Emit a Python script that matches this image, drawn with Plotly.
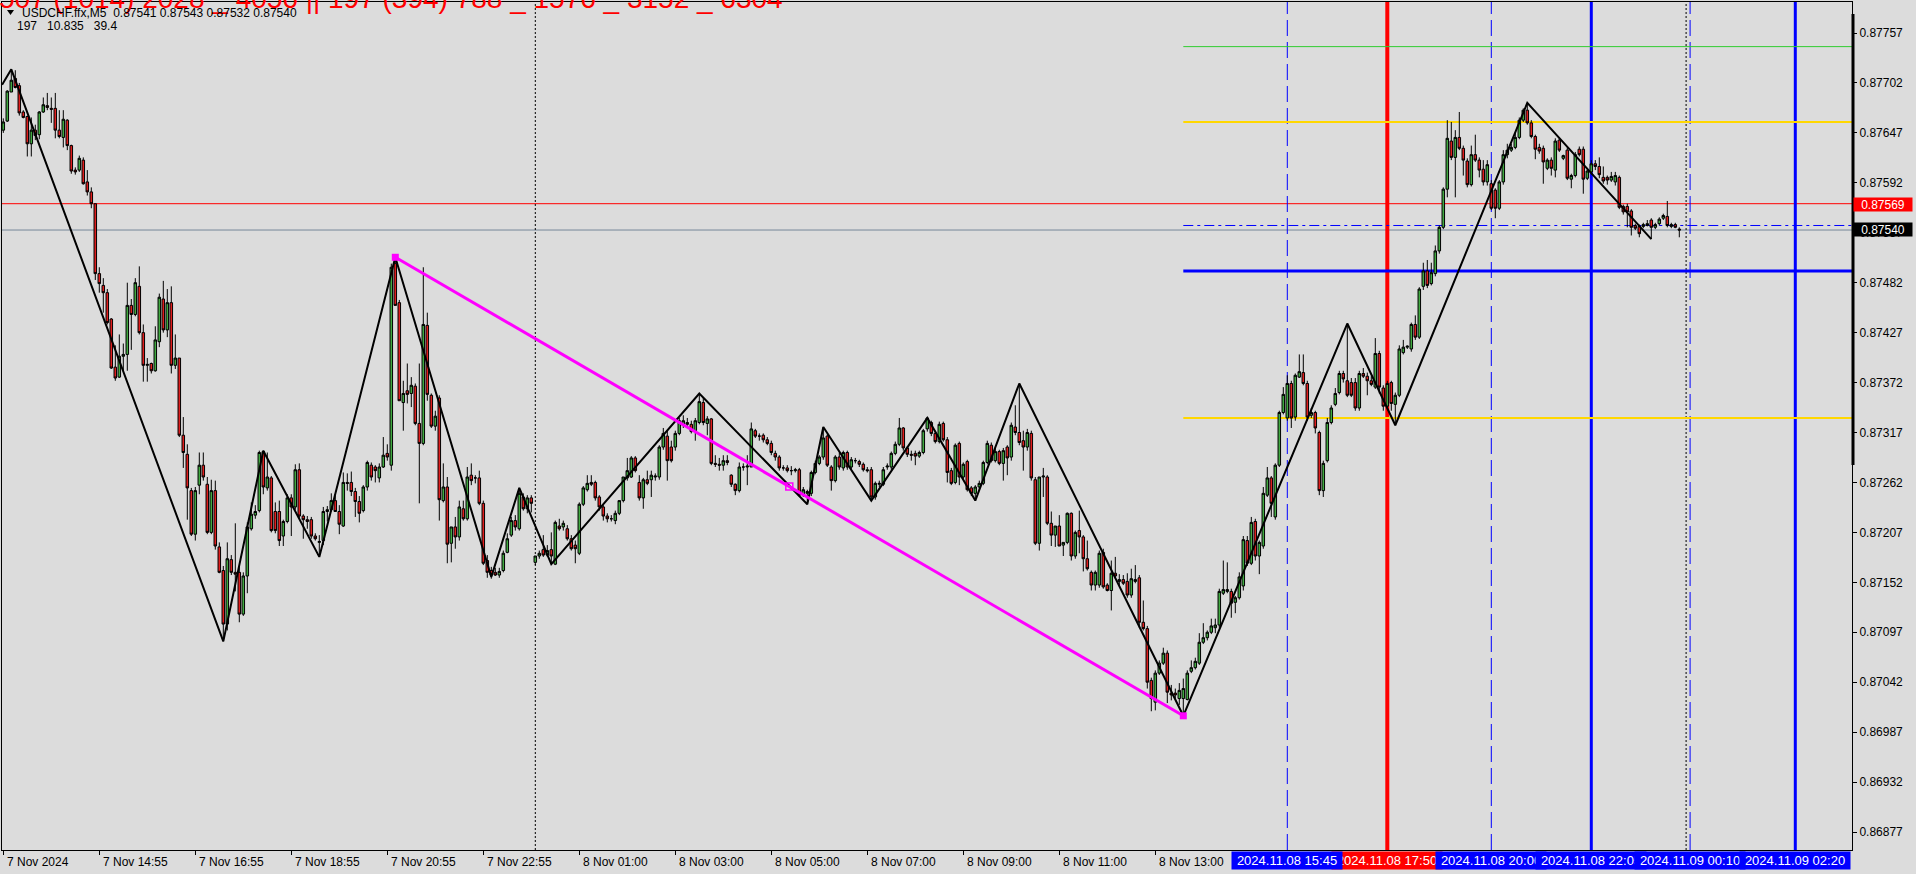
import plotly.graph_objects as go

# ---------------- DATA (prices in points, 1 point = 0.00001) ----------------
open_pts = [
87650,87660,87692,87707,87699,87670,87665,87635,87650,87645,
87670,87677,87674,87674,87650,87642,87661,87633,87606,87606,
87617,87593,87582,87569,87492,87479,87471,87442,87389,87378,
87401,87403,87457,87447,87478,87427,87391,87393,87385,87417,
87464,87430,87460,87391,87399,87314,87293,87253,87205,87259,
87281,87260,87207,87253,87191,87165,87106,87177,87163,87163,
87117,87159,87211,87226,87231,87296,87256,87267,87230,87230,
87203,87219,87245,87235,87276,87225,87221,87221,87203,87196,
87198,87230,87232,87242,87230,87214,87262,87262,87252,87241,
87231,87257,87281,87279,87267,87279,87294,87281,87503,87460,
87350,87363,87360,87368,87327,87305,87435,87358,87324,87355,
87242,87257,87195,87213,87202,87233,87222,87270,87267,87267,
87239,87176,87165,87163,87160,87165,87185,87204,87220,87211,
87246,87233,87245,87174,87181,87188,87182,87188,87172,87214,
87213,87211,87200,87193,87184,87238,87254,87262,87262,87246,
87235,87225,87222,87220,87228,87242,87267,87268,87289,87262,
87245,87265,87265,87268,87268,87301,87313,87301,87301,87316,
87325,87328,87326,87319,87328,87350,87327,87332,87283,87282,
87281,87286,87270,87260,87253,87279,87279,87279,87319,87313,
87314,87309,87305,87294,87290,87278,87278,87275,87275,87276,
87248,87252,87250,87273,87283,87290,87313,87279,87264,87290,
87278,87295,87279,87286,87285,87282,87276,87276,87246,87260,
87260,87279,87279,87294,87304,87322,87300,87293,87294,87291,
87295,87321,87328,87316,87307,87327,87309,87275,87262,87305,
87268,87285,87256,87250,87257,87261,87284,87303,87286,87296,
87283,87301,87290,87323,87317,87308,87301,87316,87265,87195,
87268,87268,87217,87204,87214,87193,87196,87228,87181,87209,
87202,87178,87163,87149,87149,87185,87149,87143,87162,87153,
87155,87153,87138,87153,87157,87108,87101,87044,87020,87052,
87063,87074,87030,87030,87024,87024,87023,87054,87058,87063,
87086,87091,87097,87102,87105,87140,87142,87142,87130,87135,
87148,87198,87173,87219,87181,87192,87248,87267,87224,87281,
87339,87333,87371,87334,87378,87383,87371,87336,87339,87317,
87253,87286,87328,87348,87361,87382,87374,87372,87372,87344,
87382,87379,87374,87367,87404,87366,87346,87372,87348,87358,
87405,87411,87409,87436,87422,87478,87495,87481,87492,87517,
87543,87585,87638,87620,87642,87630,87616,87590,87623,87617,
87607,87593,87591,87584,87564,87593,87623,87628,87631,87642,
87661,87672,87658,87643,87631,87630,87608,87617,87606,87639,
87619,87628,87596,87600,87629,87629,87597,87604,87613,87610,
87598,87598,87595,87593,87598,87566,87566,87561,87545,87544,
87544,87545,87551,87543,87547,87553,87555,87544,87546,87541,
]
high_pts = [
87663,87694,87717,87716,87702,87672,87666,87664,87656,87671,
87686,87691,87686,87691,87672,87672,87662,87634,87609,87622,
87620,87606,87587,87569,87499,87487,87475,87443,87413,87425,
87415,87482,87464,87487,87500,87436,87399,87394,87434,87470,
87484,87475,87478,87425,87399,87334,87304,87256,87257,87295,
87295,87268,87265,87264,87196,87170,87196,87182,87217,87170,
87163,87218,87240,87237,87297,87297,87295,87269,87240,87242,
87221,87249,87249,87282,87283,87227,87225,87224,87206,87204,
87235,87236,87250,87249,87237,87273,87272,87274,87256,87247,
87259,87286,87284,87281,87283,87312,87304,87503,87510,87463,
87374,87393,87378,87371,87393,87499,87449,87360,87341,87358,
87283,87268,87213,87224,87242,87242,87279,87283,87270,87275,
87242,87182,87169,87168,87168,87187,87206,87224,87226,87256,
87250,87248,87248,87181,87187,87204,87193,87207,87220,87222,
87220,87215,87204,87198,87240,87258,87270,87270,87264,87248,
87237,87228,87226,87231,87242,87268,87289,87291,87291,87270,
87267,87275,87275,87272,87303,87322,87319,87308,87319,87333,
87336,87333,87330,87333,87360,87355,87335,87333,87292,87289,
87292,87292,87271,87261,87284,87283,87292,87328,87321,87316,
87316,87312,87308,87297,87292,87281,87281,87280,87278,87278,
87257,87254,87275,87286,87292,87323,87315,87281,87292,87295,
87297,87297,87290,87289,87287,87284,87279,87279,87263,87264,
87279,87283,87296,87307,87333,87323,87302,87297,87297,87297,
87321,87333,87330,87319,87329,87329,87312,87278,87305,87307,
87284,87287,87258,87259,87264,87286,87308,87306,87300,87298,
87300,87303,87328,87347,87371,87319,87321,87319,87268,87268,
87278,87270,87230,87214,87226,87196,87229,87229,87209,87231,
87204,87198,87165,87165,87187,87189,87151,87176,87180,87161,
87160,87162,87167,87171,87160,87132,87104,87047,87055,87066,
87080,87077,87039,87035,87041,87046,87055,87066,87069,87096,
87107,87099,87112,87112,87145,87176,87174,87145,87137,87163,
87203,87203,87224,87222,87198,87257,87279,87269,87283,87341,
87367,87380,87374,87382,87403,87403,87374,87344,87341,87319,
87286,87333,87347,87366,87385,87385,87437,87377,87377,87385,
87388,87383,87379,87421,87407,87369,87374,87374,87361,87413,
87419,87413,87438,87446,87477,87504,87507,87504,87523,87545,
87587,87661,87659,87650,87670,87633,87619,87633,87645,87620,
87617,87617,87595,87586,87595,87628,87635,87635,87647,87664,
87674,87680,87661,87645,87635,87633,87619,87620,87641,87642,
87623,87631,87602,87626,87632,87632,87608,87617,87617,87620,
87610,87600,87604,87604,87600,87568,87569,87563,87547,87546,
87548,87551,87553,87548,87554,87558,87572,87548,87548,87543,
]
low_pts = [
87647,87659,87692,87696,87666,87663,87621,87621,87639,87640,
87669,87672,87658,87641,87641,87631,87628,87602,87601,87604,
87590,87578,87564,87485,87471,87449,87436,87387,87374,87377,
87385,87385,87408,87445,87425,87373,87373,87382,87384,87411,
87427,87422,87382,87387,87312,87278,87221,87203,87198,87249,
87264,87205,87205,87188,87162,87087,87099,87160,87142,87108,
87115,87140,87209,87222,87229,87249,87253,87207,87206,87192,
87192,87217,87203,87232,87222,87200,87211,87200,87198,87180,
87193,87219,87230,87230,87205,87213,87253,87247,87224,87218,
87229,87253,87264,87262,87262,87278,87286,87275,87457,87352,
87319,87349,87345,87325,87239,87303,87352,87322,87319,87220,
87240,87173,87174,87189,87198,87220,87220,87259,87261,87237,
87171,87157,87156,87159,87157,87163,87184,87202,87209,87209,
87231,87228,87229,87171,87178,87180,87180,87172,87171,87209,
87209,87198,87187,87173,87182,87236,87252,87258,87242,87231,
87220,87218,87219,87216,87226,87240,87264,87267,87273,87242,
87233,87259,87246,87264,87265,87298,87264,87284,87297,87314,
87322,87324,87316,87308,87326,87325,87314,87281,87279,87275,
87275,87281,87257,87248,87251,87275,87259,87279,87311,87308,
87306,87303,87292,87286,87275,87275,87273,87270,87273,87246,
87246,87238,87247,87271,87281,87287,87279,87253,87262,87276,
87275,87276,87276,87283,87279,87274,87273,87242,87243,87257,
87258,87276,87276,87292,87302,87297,87290,87286,87281,87289,
87293,87318,87313,87305,87305,87307,87262,87259,87260,87259,
87265,87252,87247,87242,87253,87259,87282,87284,87284,87281,
87264,87270,87286,87314,87303,87275,87297,87264,87193,87187,
87246,87215,87192,87191,87192,87181,87194,87176,87178,87184,
87164,87165,87143,87143,87146,87145,87142,87121,87156,87149,
87149,87135,87135,87151,87102,87099,87035,87010,87011,87050,
87061,87019,87022,87024,87017,87005,87022,87052,87056,87061,
87084,87088,87095,87096,87102,87138,87140,87113,87118,87133,
87143,87170,87171,87176,87161,87189,87246,87224,87221,87279,
87337,87330,87322,87330,87377,87369,87330,87333,87316,87248,
87246,87284,87326,87346,87359,87372,87356,87356,87341,87341,
87377,87358,87368,87365,87360,87341,87344,87341,87325,87356,
87403,87409,87406,87419,87420,87474,87476,87479,87489,87514,
87541,87576,87617,87576,87628,87600,87587,87588,87615,87598,
87589,87589,87562,87553,87562,87590,87619,87626,87629,87640,
87659,87656,87641,87618,87624,87591,87606,87600,87598,87626,
87617,87595,87586,87598,87621,87580,87595,87601,87606,87597,
87591,87590,87593,87589,87563,87557,87543,87534,87540,87532,
87542,87544,87530,87541,87545,87551,87543,87542,87542,87532,
]
close_pts = [
87659,87693,87705,87697,87669,87664,87635,87650,87644,87670,
87678,87675,87673,87650,87643,87662,87633,87605,87604,87619,
87591,87582,87569,87492,87481,87471,87438,87388,87377,87401,
87403,87457,87447,87482,87427,87391,87392,87385,87419,87466,
87430,87460,87391,87399,87314,87295,87256,87205,87253,87281,
87268,87207,87253,87192,87163,87106,87178,87163,87161,87117,
87159,87213,87227,87230,87295,87257,87268,87209,87209,87198,
87219,87245,87235,87276,87225,87221,87219,87203,87200,87197,
87230,87232,87242,87230,87216,87262,87261,87252,87241,87228,
87257,87284,87268,87275,87279,87292,87290,87499,87457,87352,
87360,87359,87369,87327,87305,87436,87359,87324,87335,87243,
87257,87194,87213,87202,87235,87222,87268,87264,87267,87239,
87173,87163,87160,87160,87164,87184,87200,87220,87213,87250,
87233,87245,87239,87181,87184,87182,87187,87181,87218,87211,
87217,87200,87189,87189,87238,87256,87261,87260,87245,87235,
87225,87222,87222,87228,87242,87268,87275,87289,87275,87245,
87265,87261,87270,87269,87301,87316,87286,87286,87316,87330,
87330,87326,87318,87330,87351,87328,87332,87283,87282,87281,
87286,87284,87260,87253,87279,87279,87280,87321,87313,87313,
87309,87305,87295,87290,87278,87278,87275,87275,87276,87248,
87254,87250,87273,87283,87290,87311,87281,87264,87290,87279,
87295,87279,87287,87286,87282,87276,87275,87246,87261,87261,
87276,87280,87294,87304,87322,87300,87293,87292,87291,87295,
87319,87333,87316,87307,87326,87309,87273,87261,87303,87268,
87282,87254,87250,87257,87261,87284,87305,87286,87296,87283,
87297,87289,87325,87317,87306,87301,87317,87267,87195,87268,
87269,87217,87204,87214,87192,87196,87228,87181,87207,87202,
87178,87167,87149,87163,87184,87147,87143,87162,87159,87155,
87151,87138,87156,87155,87108,87101,87042,87024,87052,87063,
87074,87031,87028,87028,87033,87035,87052,87058,87065,87086,
87091,87097,87104,87105,87142,87144,87144,87129,87135,87158,
87199,87173,87218,87181,87196,87250,87267,87239,87281,87339,
87359,87371,87333,87380,87384,87371,87334,87339,87322,87253,
87283,87328,87344,87360,87382,87376,87358,87358,87344,87382,
87379,87374,87370,87404,87367,87346,87371,87349,87358,87409,
87411,87412,87436,87422,87475,87495,87479,87493,87517,87543,
87585,87641,87620,87642,87630,87617,87590,87623,87617,87606,
87593,87612,87564,87564,87593,87623,87628,87631,87642,87661,
87672,87658,87643,87629,87627,87615,87617,87608,87638,87628,
87622,87597,87600,87623,87623,87596,87605,87613,87610,87601,
87594,87595,87599,87600,87565,87560,87560,87543,87542,87536,
87546,87547,87543,87546,87552,87556,87545,87546,87543,87540,
]

# zigzag pivots (bar index, price points)
zz_bar = [-0.3, 2, 55, 65, 79, 98, 122, 129, 137, 174, 201, 205, 217, 231, 243, 254, 295, 336, 348, 381, 412]
zz_pts = [87700, 87717, 87087, 87297, 87180, 87510, 87158, 87256, 87172, 87360, 87238, 87323, 87242, 87333,
          87242, 87371, 87005, 87437, 87325, 87680, 87530]

# magenta trend line (bar index, price points)
trend_bar = [98, 295]
trend_pts = [87510, 87005]

# horizontal levels
full_levels = [0.87569, 0.87540]
level_start_bar = 295
levels = [0.87742, 0.87659, 0.87545, 0.87495, 0.87333]

# vertical lines (bar index)
vline_bars = [133, 321, 346, 372, 397, 420.7, 421.7, 448]

# time labels on x axis
xtick_bars = [0, 24, 48, 72, 96, 120, 144, 168, 192, 216, 240, 264, 288]
xtick_text = ["7 Nov 2024", "7 Nov 14:55", "7 Nov 16:55", "7 Nov 18:55", "7 Nov 20:55", "7 Nov 22:55",
              "8 Nov 01:00", "8 Nov 03:00", "8 Nov 05:00", "8 Nov 07:00", "8 Nov 09:00", "8 Nov 11:00",
              "8 Nov 13:00"]

# labels of the vertical lines
vlabel_bars = [346, 321, 372, 397, 421.7, 448]
vlabel_text = ["2024.11.08 17:50", "2024.11.08 15:45", "2024.11.08 20:00", "2024.11.08 22:05",
               "2024.11.09 00:10", "2024.11.09 02:20"]

# price axis ticks
ytick_vals = [0.87757, 0.87702, 0.87647, 0.87592, 0.87537, 0.87482, 0.87427, 0.87372, 0.87317,
              0.87262, 0.87207, 0.87152, 0.87097, 0.87042, 0.86987, 0.86932, 0.86877]

header_text = "507 (1014) 2028 _ 4056 || 197 (394) 788 _ 1576 _ 3152 _ 6304"
info_line1 = "USDCHF.ffx,M5  0.87541 0.87543 0.87532 0.87540"
info_line2 = "197   10.835   39.4"

# ---------------- FIGURE ----------------
W, H = 1916, 874
ML, MR, MT, MB = 2, 64, 2, 24
PW = W - ML - MR
PH = H - MT - MB


def px(xp):
    return (xp - ML) / PW


def py(yp):
    return 1 - (yp - MT) / PH


FONT = "Liberation Sans, Arial, sans-serif"
BG = "#DCDCDC"
GREEN = "#41A941"
RED = "#E01E1E"
BLUE = "#0000FF"

n = min(len(open_pts), len(high_pts), len(low_pts), len(close_pts))
o = [v / 1e5 for v in open_pts[:n]]
c = [v / 1e5 for v in close_pts[:n]]
h = [max(a, b, d) / 1e5 for a, b, d in zip(high_pts[:n], open_pts[:n], close_pts[:n])]
l = [min(a, b, d) / 1e5 for a, b, d in zip(low_pts[:n], open_pts[:n], close_pts[:n])]
idx = list(range(n))

fig = go.Figure()
fig.add_trace(go.Candlestick(
    x=idx, open=o, high=h, low=l, close=c,
    increasing=dict(line=dict(color="black", width=1), fillcolor=GREEN),
    decreasing=dict(line=dict(color="black", width=1), fillcolor=RED),
    whiskerwidth=0, hoverinfo="skip", showlegend=False,
))

fig.add_trace(go.Scatter(
    x=zz_bar, y=[v / 1e5 for v in zz_pts], mode="lines",
    line=dict(color="black", width=2), hoverinfo="skip", showlegend=False,
))

fig.add_trace(go.Scatter(
    x=trend_bar, y=[v / 1e5 for v in trend_pts], mode="lines+markers",
    line=dict(color="#FF00FF", width=3),
    marker=dict(symbol="square", size=7, color="#FF00FF"),
    hoverinfo="skip", showlegend=False,
))
mid_bar = (trend_bar[0] + trend_bar[1]) / 2
mid_p = (trend_pts[0] + trend_pts[1]) / 2 / 1e5
fig.add_trace(go.Scatter(
    x=[mid_bar], y=[mid_p], mode="markers",
    marker=dict(symbol="square-open", size=7, color="#FF00FF", line=dict(width=1.5)),
    hoverinfo="skip", showlegend=False,
))

shapes = []
x_range = [-0.325, 462.175]
y_range = [0.868572, 0.8779114]

# full width lines
shapes.append(dict(type="line", xref="paper", yref="y", x0=0, x1=1, y0=full_levels[0], y1=full_levels[0],
                   line=dict(color="#FF0000", width=1), layer="below"))
shapes.append(dict(type="line", xref="paper", yref="y", x0=0, x1=1, y0=full_levels[1], y1=full_levels[1],
                   line=dict(color="#778899", width=1), layer="below"))

lvl_styles = [("#32CD32", 1, "solid"), ("#FFD700", 2, "solid"), (BLUE, 1, "10px,4px,3px,4px"),
              (BLUE, 3, "solid"), ("#FFD700", 2, "solid")]
for val, (col, wd, dsh) in zip(levels, lvl_styles):
    shapes.append(dict(type="line", xref="x", yref="y", x0=level_start_bar, x1=x_range[1], y0=val, y1=val,
                       line=dict(color=col, width=wd, dash=dsh), layer="below"))

v_styles = [("black", 1, "2px,2px"), (BLUE, 1, "16px,6px"), ("#FF0000", 4, "solid"), (BLUE, 1, "16px,6px"),
            (BLUE, 3, "solid"), ("black", 1, "2px,2px"), (BLUE, 1, "16px,6px"), (BLUE, 3, "solid")]
for b, (col, wd, dsh) in zip(vline_bars, v_styles):
    shapes.append(dict(type="line", xref="x", yref="paper", x0=b, x1=b, y0=0, y1=1,
                       line=dict(color=col, width=wd, dash=dsh), layer="below"))

# thick segment on the price scale
shapes.append(dict(type="line", xref="paper", yref="paper", x0=px(1853), x1=px(1853), y0=py(14), y1=py(465),
                   line=dict(color="black", width=3)))
# small triangle at the top-left
shapes.append(dict(type="path", xref="paper", yref="paper",
                   path=f"M {px(7)},{py(10)} L {px(14)},{py(10)} L {px(10.5)},{py(15)} Z",
                   fillcolor="black", line=dict(color="black", width=0)))

annotations = []
annotations.append(dict(xref="paper", yref="paper", x=px(-3), y=py(-1), xanchor="left", yanchor="middle",
                        text=header_text, showarrow=False,
                        font=dict(family=FONT, size=28, color="#FF0000")))
annotations.append(dict(xref="paper", yref="paper", x=px(20), y=py(12.5), xanchor="left", yanchor="middle",
                        text=info_line1, showarrow=False, font=dict(family=FONT, size=12, color="black")))
annotations.append(dict(xref="paper", yref="paper", x=px(15), y=py(26), xanchor="left", yanchor="middle",
                        text=info_line2, showarrow=False, font=dict(family=FONT, size=12, color="black")))

for b, t in zip(xtick_bars, xtick_text):
    annotations.append(dict(xref="x", yref="paper", x=b + 0.4, y=py(862), xanchor="left", yanchor="middle",
                            text=t, showarrow=False, font=dict(family=FONT, size=12, color="black")))

for b, t in zip(vlabel_bars, vlabel_text):
    col = "#FF0000" if t.endswith("17:50") else BLUE
    annotations.append(dict(xref="x", yref="paper", x=b, y=py(860.5), xanchor="center", yanchor="middle",
                            text=t, showarrow=False, width=110, height=17, bgcolor=col, borderpad=0,
                            align="center", font=dict(family=FONT, size=13, color="white")))

annotations.append(dict(xref="paper", yref="paper", x=px(1853), y=py(204.5), xanchor="left", yanchor="middle",
                        text="0.87569", showarrow=False, width=58, height=13, bgcolor="#FF0000", borderpad=0,
                        align="center", font=dict(family=FONT, size=12, color="white")))
annotations.append(dict(xref="paper", yref="paper", x=px(1853), y=py(229), xanchor="left", yanchor="middle",
                        text="0.87540", showarrow=False, width=58, height=13, bgcolor="black", borderpad=0,
                        align="center", font=dict(family=FONT, size=12, color="white")))

fig.update_layout(
    width=W, height=H,
    margin=dict(l=ML, r=MR, t=MT, b=MB, pad=0),
    paper_bgcolor=BG, plot_bgcolor=BG,
    showlegend=False, hovermode=False,
    boxgap=0.3, boxgroupgap=0.1,
    shapes=shapes, annotations=annotations,
    xaxis=dict(range=x_range, showgrid=False, zeroline=False, showline=True, mirror=True,
               linecolor="black", linewidth=1, ticks="outside", ticklen=4, tickcolor="black",
               tickvals=xtick_bars, showticklabels=False, rangeslider=dict(visible=False),
               fixedrange=True),
    yaxis=dict(range=y_range, side="right", showgrid=False, zeroline=False, showline=True, mirror=True,
               linecolor="black", linewidth=1, ticks="outside", ticklen=4, tickcolor="black",
               tickvals=ytick_vals, ticktext=[f"{v:.5f}" for v in ytick_vals],
               tickfont=dict(family=FONT, size=12, color="black"), fixedrange=True),
)

fig.write_html("out.html", config={"displayModeBar": False},
               post_script="document.body.style.margin='0px';document.body.style.overflow='hidden';")
